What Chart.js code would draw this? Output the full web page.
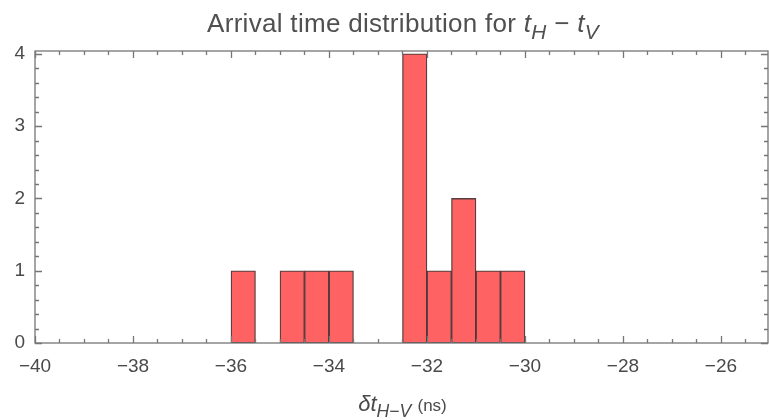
<!DOCTYPE html>
<html>
<head>
<meta charset="utf-8">
<script src="https://cdn.jsdelivr.net/npm/chart.js@4"></script>
<style>
  html, body { margin: 0; padding: 0; background: #fff; }
  #wrap { position: relative; width: 769px; height: 420px; overflow: hidden; }
  #title {
    position: absolute; left: 0; width: 806px; top: 8px; text-align: center; line-height: 30px;
    font-family: "Liberation Sans", Arial, sans-serif; font-size: 26px; color: #505050; white-space: nowrap;
    letter-spacing: 0.3px;
  }
  #xtitle {
    position: absolute; left: 0; width: 805px; top: 392px; text-align: center; line-height: 24px;
    font-family: "Liberation Sans", Arial, sans-serif; font-size: 22px; color: #4a4a4a; white-space: nowrap;
  }
  #xtitle .u { font-size: 17px; }
  sub { font-size: 80%; vertical-align: -0.35em; line-height: 0; }
</style>
</head>
<body>
<div id="wrap">
  <canvas id="chart" width="769" height="420"></canvas>
  <div id="title">Arrival time distribution for <i>t</i><sub><i>H</i></sub> − <i>t</i><sub><i>V</i></sub></div>
  <div id="xtitle"><i>δt</i><sub><i>H</i>−<i>V</i></sub> <span class="u">(ns)</span></div>
</div>
<script>
// histogram bins (left edge, ns) and counts
const binStarts = [-36, -35, -34.5, -34, -32.5, -32, -31.5, -31, -30.5];
const counts = [1, 1, 1, 1, 4, 1, 2, 1, 1];
const binWidth = 0.5;

const xMin = -40, xMax = -25.04, xMajor = 2, xMinor = 0.5;
const yMin = 0, yMax = 4.04, yMajor = 1, yMinor = 0.2;

const FRAME = '#767676';
const LABEL = '#4a4a4a';
const FONT = '"Liberation Sans", Arial, sans-serif';

// frame with inward ticks on all four sides
const frameTicks = {
  id: 'frameTicks',
  afterDatasetsDraw(chart) {
    const { ctx, chartArea: a, scales: { x, y } } = chart;
    ctx.save();
    ctx.strokeStyle = FRAME;
    ctx.lineWidth = 1.3;
    ctx.strokeRect(a.left, a.top, a.right - a.left, a.bottom - a.top);
    const near = (v, s) => Math.abs(v / s - Math.round(v / s)) < 1e-6;
    ctx.beginPath();
    for (let v = xMin; v <= xMax + 1e-9; v += xMinor) {
      const px = Math.round(x.getPixelForValue(v)) + 0.5;
      const len = near(v, xMajor) ? 7 : 4;
      ctx.moveTo(px, a.bottom); ctx.lineTo(px, a.bottom - len);
      ctx.moveTo(px, a.top); ctx.lineTo(px, a.top + len);
    }
    for (let i = 0; yMin + i * yMinor <= yMax + 1e-9; i++) {
      const v = yMin + i * yMinor;
      const py = Math.round(y.getPixelForValue(v)) + 0.5;
      const len = i % 5 === 0 ? 7 : 4;
      ctx.moveTo(a.left, py); ctx.lineTo(a.left + len, py);
      ctx.moveTo(a.right, py); ctx.lineTo(a.right - len, py);
    }
    ctx.stroke();
    ctx.restore();
  }
};

const fmt = v => (v < 0 ? '\u2212' + Math.abs(v) : String(v));

new Chart(document.getElementById('chart'), {
  type: 'bar',
  data: {
    datasets: [{
      data: binStarts.map((s, i) => ({ x: s + binWidth / 2, y: counts[i] })),
      backgroundColor: 'rgb(255,98,98)',
      borderColor: 'rgba(45,15,15,0.8)',
      borderWidth: 1.3,
      borderSkipped: false,
      barPercentage: 1,
      categoryPercentage: 1
    }]
  },
  options: {
    responsive: false,
    animation: false,
    layout: { padding: { top: 51, right: 1, left: 0, bottom: 0 } },
    plugins: { legend: { display: false }, tooltip: { enabled: false }, title: { display: false } },
    scales: {
      x: {
        type: 'linear', min: xMin, max: xMax, offset: false,
        grid: { display: false, drawTicks: false },
        border: { display: false },
        afterFit: s => { s.height = 77; },
        afterBuildTicks: s => {
          s.ticks = [];
          for (let v = xMin; v <= xMax; v += xMajor) s.ticks.push({ value: v });
        },
        ticks: {
          padding: 12, maxRotation: 0, autoSkip: false,
          color: LABEL, font: { family: FONT, size: 19 },
          callback: v => fmt(v)
        }
      },
      y: {
        min: yMin, max: yMax,
        grid: { display: false, drawTicks: false },
        border: { display: false },
        afterFit: s => { s.width = 35; },
        afterBuildTicks: s => {
          s.ticks = [];
          for (let v = 0; v <= 4; v += yMajor) s.ticks.push({ value: v });
        },
        ticks: {
          padding: 10,
          color: LABEL, font: { family: FONT, size: 19 },
          callback: v => fmt(v)
        }
      }
    }
  },
  plugins: [frameTicks]
});
</script>
</body>
</html>
